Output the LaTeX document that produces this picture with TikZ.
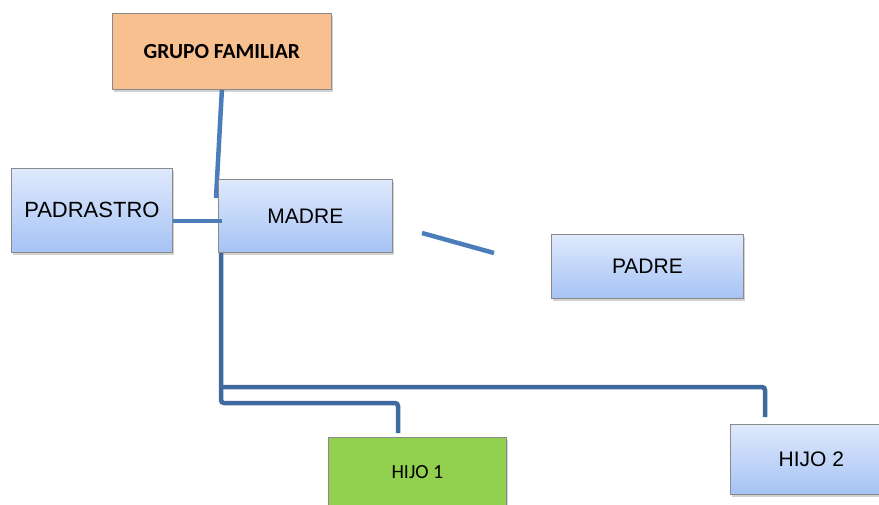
\documentclass[tikz,border=0pt]{standalone}
\usepackage{fontspec}
\setmainfont{Liberation Sans}
\newfontfamily\calib{Carlito}
\usetikzlibrary{shadows}
\definecolor{peach}{HTML}{F9C08F}
\definecolor{bluetop}{HTML}{DFE9FC}
\definecolor{bluebot}{HTML}{A6C3F5}
\definecolor{greenbox}{HTML}{92D050}
\definecolor{lineA}{HTML}{4A7DBA}
\definecolor{lineB}{HTML}{3F6A9F}
\definecolor{edgegray}{HTML}{8A8A8A}
\pgfdeclarelayer{bg}
\pgfsetlayers{bg,main}
\begin{document}
\begin{tikzpicture}[x=1pt,y=-1pt,
 boxbase/.style={draw=edgegray, line width=0.8pt, inner sep=0pt, anchor=north west,
   drop shadow={shadow xshift=2pt, shadow yshift=-3pt, opacity=0.3, fill=black!60}},
 bluebox/.style={boxbase, top color=bluetop, bottom color=bluebot, font=\fontsize{21}{25}\selectfont},
 conn/.style={line width=4.5pt, color=lineA},
 connB/.style={line width=4.5pt, color=lineB, rounded corners=3pt}
]
\useasboundingbox (0,0) rectangle (879,504);
\clip (0,0) rectangle (879,504);

\node[boxbase, fill=peach, minimum width=219pt, minimum height=76pt,
  font=\calib\bfseries\fontsize{21.5}{25}\selectfont] (grupo) at (112,13) {GRUPO FAMILIAR};
\node[bluebox, minimum width=161pt, minimum height=84pt, font=\fontsize{22}{26}\selectfont] (padrastro) at (11,168) {PADRASTRO};
\node[bluebox, minimum width=174pt, minimum height=73pt] (madre) at (218,179) {MADRE};
\node[bluebox, minimum width=192pt, minimum height=64pt] (padre) at (551,234) {PADRE};
\node[boxbase, fill=greenbox, minimum width=178pt, minimum height=70pt,
  font=\calib\fontsize{20}{24}\selectfont] (hijo1) at (328,437) {HIJO 1};
\node[bluebox, minimum width=162pt, minimum height=70pt] (hijo2) at (730,424) {HIJO 2};

\coordinate (gEnd) at (216,198);
\coordinate (pm) at (222,221);
\coordinate (j1) at (221,403);
\coordinate (j2) at (221,387);
\coordinate (k1) at (398,0);
\coordinate (k2) at (765,0);
\coordinate (s1) at (422,233);
\coordinate (s2) at (494,253);

\begin{pgfonlayer}{bg}
\draw[conn] (grupo.south) -- (gEnd);
\draw[connB, shorten >=4pt] (madre.south -| j1) -- (j1) -| (hijo1.north -| k1);
\draw[connB, shorten >=7pt] (j2) -| (hijo2.north -| k2);
\end{pgfonlayer}
\draw[conn] (padrastro.east |- pm) -- (pm);
\draw[conn] (s1) -- (s2);
\end{tikzpicture}
\end{document}
